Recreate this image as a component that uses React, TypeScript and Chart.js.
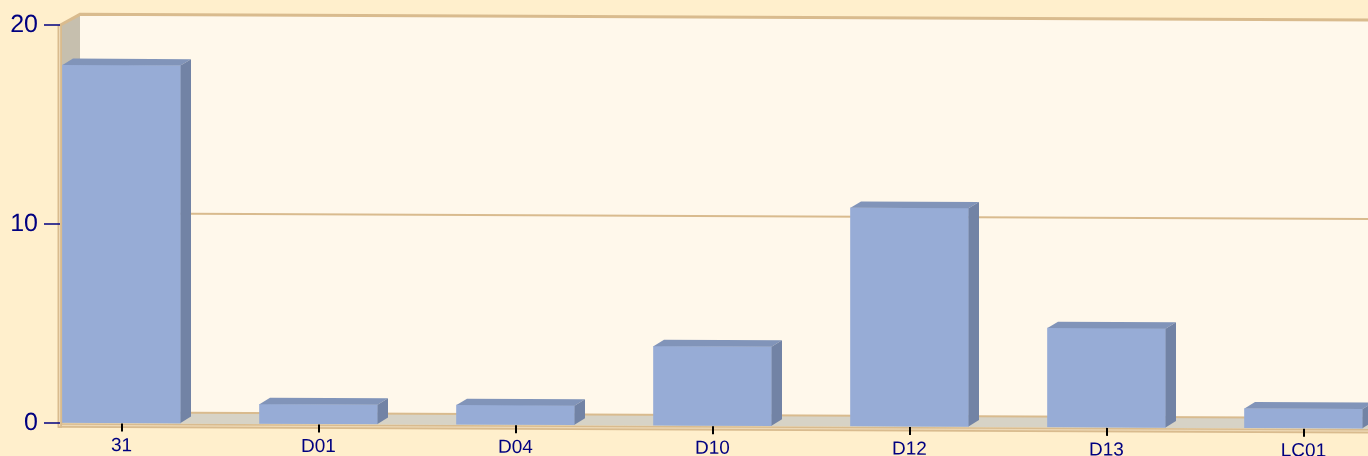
import React, { useEffect, useRef } from 'react';
import { Chart, registerables } from 'chart.js';

Chart.register(...registerables);

const categories = ['31', 'D01', 'D04', 'D10', 'D12', 'D13', 'LC01'];
const counts = [18, 1, 1, 4, 11, 5, 1];
const yTicks = [0, 10, 20];

const PAGE_BG = '#FFEFCC';
const BACK_WALL = '#FFF8EB';
const SIDE_WALL = '#C6BFAE';
const FLOOR = '#D7D3C6';
const TAN = '#D9BB8E';
const TAN_LIGHT = '#EED9B6';
const BAR_FRONT = '#97ACD6';
const BAR_TOP = '#8194B9';
const BAR_SIDE = '#7283A5';
const NAVY = '#000080';

const SHEAR = 0.0044;
const WALL_DX = 20;
const WALL_DY = -11;
const BAR_DX = 10.5;
const BAR_DY = -6.5;

function poly(ctx: CanvasRenderingContext2D, pts: number[][], fill: string) {
  ctx.beginPath();
  ctx.moveTo(pts[0][0], pts[0][1]);
  for (let i = 1; i < pts.length; i++) ctx.lineTo(pts[i][0], pts[i][1]);
  ctx.closePath();
  ctx.fillStyle = fill;
  ctx.fill();
}

const threeD = {
  id: 'threeD',
  beforeDraw(chart: any) {
    const { ctx, chartArea: a, scales } = chart;
    ctx.save();
    ctx.transform(1, SHEAR, 0, 1, 0, 0);
    const y = scales.y;
    const top = y.getPixelForValue(20);
    const bot = y.getPixelForValue(0);
    const L = a.left;
    const R = a.right + 60;
    ctx.fillStyle = BACK_WALL;
    ctx.fillRect(L + WALL_DX, top + WALL_DY, R - L, bot - top);
    poly(ctx, [[L, top], [L + WALL_DX, top + WALL_DY], [L + WALL_DX, bot + WALL_DY], [L, bot]], SIDE_WALL);
    poly(ctx, [[L, bot], [L + WALL_DX, bot + WALL_DY], [R + WALL_DX, bot + WALL_DY], [R, bot]], FLOOR);
    ctx.strokeStyle = TAN;
    yTicks.forEach((v) => {
      const p = y.getPixelForValue(v);
      ctx.lineWidth = v === 20 ? 3 : 2;
      ctx.beginPath();
      ctx.moveTo(L, p);
      ctx.lineTo(L + WALL_DX, p + WALL_DY);
      ctx.lineTo(R + WALL_DX, p + WALL_DY);
      ctx.stroke();
    });
    ctx.fillStyle = TAN;
    ctx.fillRect(L - 2, bot, R - L + 2, 4.5);
    ctx.fillStyle = TAN_LIGHT;
    ctx.fillRect(L - 2, bot + 1.5, R - L + 2, 1.2);
    ctx.fillStyle = TAN;
    ctx.fillRect(L - 2.5, top, 4.5, bot - top + 4.5);
    ctx.fillStyle = TAN_LIGHT;
    ctx.fillRect(L - 1, top + 1, 1.2, bot - top + 2);
  },
  afterDatasetsDraw(chart: any) {
    const { ctx } = chart;
    const meta = chart.getDatasetMeta(0);
    meta.data.forEach((el: any) => {
      const { x, y, base, width } = el.getProps(['x', 'y', 'base', 'width'], true);
      const l = x - width / 2;
      const r = x + width / 2;
      poly(ctx, [[l, y], [l + BAR_DX, y + BAR_DY], [r + BAR_DX, y + BAR_DY], [r, y]], BAR_TOP);
      poly(ctx, [[r, y], [r + BAR_DX, y + BAR_DY], [r + BAR_DX, base + BAR_DY], [r, base]], BAR_SIDE);
    });
  },
  afterDraw(chart: any) {
    chart.ctx.restore();
  },
};

export default function App() {
  const ref = useRef<HTMLCanvasElement | null>(null);
  useEffect(() => {
    if (!ref.current) return;
    const chart = new Chart(ref.current, {
      type: 'bar',
      data: {
        datasets: [
          {
            data: counts.map((v, i) => ({ x: i, y: v })),
            backgroundColor: BAR_FRONT,
            borderWidth: 0,
            barThickness: 118,
          },
        ],
      },
      options: {
        animation: false,
        responsive: false,
        devicePixelRatio: 1,
        layout: { padding: { top: 25, left: 0, right: 0, bottom: 0 } },
        plugins: { legend: { display: false }, tooltip: { enabled: false } },
        scales: {
          x: {
            type: 'linear',
            offset: false,
            min: -0.3122,
            max: 6.3274,
            afterBuildTicks: (s: any) => {
              s.ticks = categories.map((_, i) => ({ value: i }));
            },
            afterFit: (s: any) => {
              s.height = 33;
            },
            grid: { offset: false, drawOnChartArea: false, drawTicks: true, tickLength: 8, color: '#000000', lineWidth: 2 },
            border: { display: false },
            ticks: {
              autoSkip: false,
              maxRotation: 0,
              padding: 3,
              color: NAVY,
              font: { family: "'Liberation Sans', Arial, sans-serif", size: 19 },
              callback: (_v: any, i: number) => categories[i] ?? '',
            },
          },
          y: {
            min: 0,
            max: 20,
            afterBuildTicks: (s: any) => {
              s.ticks = yTicks.map((v) => ({ value: v }));
            },
            afterFit: (s: any) => {
              s.width = 60;
            },
            grid: { drawOnChartArea: false, drawTicks: true, tickLength: 16, color: NAVY, lineWidth: 1.5 },
            border: { display: false },
            ticks: {
              padding: 6,
              color: NAVY,
              font: { family: "'Liberation Sans', Arial, sans-serif", size: 25 },
            },
          },
        },
      },
      plugins: [threeD],
    });
    return () => chart.destroy();
  }, []);
  return (
    <div style={{ position: 'fixed', left: 0, top: 0, width: 1368, height: 456, background: PAGE_BG }}>
      <canvas ref={ref} width={1368} height={456} style={{ display: 'block' }} />
    </div>
  );
}
